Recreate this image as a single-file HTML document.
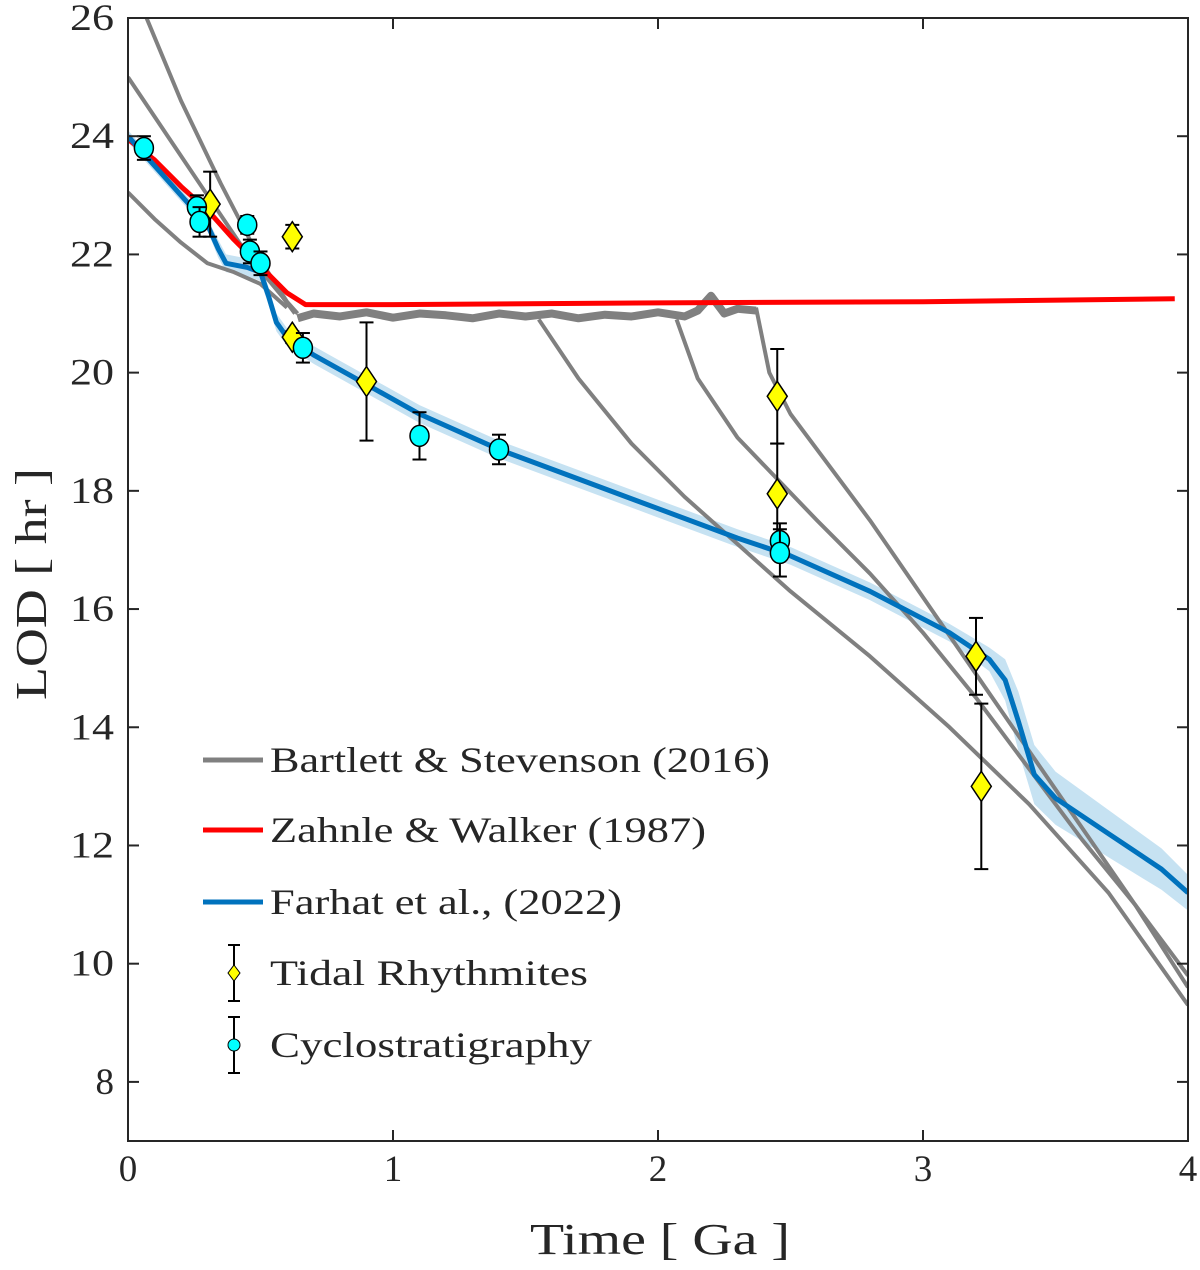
<!DOCTYPE html>
<html><head><meta charset="utf-8"><style>
body{margin:0;background:#fff}
svg text{font-family:"Liberation Serif","DejaVu Serif",serif;fill:#262626}
</style></head><body>
<svg id="chart" width="1200" height="1265" xmlns="http://www.w3.org/2000/svg"></svg>
<script>
const xTicks=[0,1,2,3,4];
const yTicks=[8,10,12,14,16,18,20,22,24,26];
const redX=[0,0.1,0.2,0.3,0.4,0.5,0.6,0.67,1,2,3,3.95];
const redY=[23.95,23.6,23.15,22.75,22.25,21.8,21.35,21.15,21.15,21.18,21.2,21.25];
const blueX=[0,0.1,0.2,0.3,0.34,0.37,0.45,0.5,0.53,0.56,0.6,0.7,0.9,1.1,1.4,1.7,2.0,2.3,2.5,2.8,3.1,3.25,3.31,3.36,3.42,3.5,3.7,3.9,4];
const blueY=[24,23.5,23.0,22.5,22.1,21.85,21.78,21.7,21.3,20.85,20.6,20.3,19.8,19.3,18.7,18.2,17.7,17.2,16.9,16.3,15.6,15.15,14.8,14.1,13.2,12.8,12.2,11.6,11.2];
const bandW=[0.1,0.1,0.1,0.1,0.15,0.15,0.15,0.15,0.15,0.15,0.15,0.15,0.15,0.15,0.15,0.15,0.15,0.15,0.15,0.15,0.15,0.2,0.35,0.5,0.5,0.45,0.4,0.35,0.3];
const grayLines=[
 {x:[0.07,0.2,0.35,0.5,0.6,0.64],y:[26,24.6,23.2,21.9,21.2,21.0]},
 {x:[0,0.15,0.3,0.45,0.58,0.63],y:[25,24.0,23.0,22.0,21.3,21.0]},
 {x:[0,0.1,0.2,0.3,0.4,0.5,0.6],y:[23.05,22.6,22.2,21.85,21.7,21.5,21.1]},
 {x:[0.64,0.7,0.8,0.9,1.0,1.1,1.2,1.3,1.4,1.5,1.6,1.7,1.8,1.9,2.0,2.1,2.15,2.2,2.25,2.3,2.37],y:[20.92,21.0,20.95,21.02,20.93,21.0,20.97,20.92,21.0,20.95,21.0,20.92,20.98,20.95,21.02,20.95,21.05,21.3,21.0,21.08,21.05]},
 {x:[1.55,1.7,1.9,2.1,2.3,2.5,2.8,3.1,3.4,3.7,4],y:[20.9,19.9,18.8,17.9,17.1,16.3,15.2,14.0,12.7,11.2,9.3]},
 {x:[2.07,2.15,2.3,2.45,2.6,2.8,3.0,3.2,3.4,3.6,3.8,4],y:[20.9,19.9,18.9,18.2,17.5,16.6,15.6,14.5,13.3,12.1,11.0,9.6]},
 {x:[2.37,2.42,2.5,2.6,2.8,3.0,3.2,3.4,3.6,3.8,4],y:[21.1,20.0,19.3,18.7,17.5,16.2,14.9,13.6,12.3,11.0,9.8]}
];
const tideX=[0.31,0.62,0.62,0.9,2.45,2.45,3.2,3.22];
const tideY=[22.85,22.3,20.6,19.85,19.6,17.95,15.2,13.0];
const tideE=[0.55,0.2,0.1,1.0,0.8,0.85,0.65,1.4];
const cycX=[0.06,0.26,0.27,0.45,0.46,0.5,0.66,1.1,1.4,2.46,2.46];
const cycY=[23.8,22.8,22.55,22.5,22.05,21.85,20.42,18.93,18.7,17.15,16.95];
const cycE=[0.2,0.2,0.25,0.15,0.2,0.2,0.25,0.4,0.25,0.3,0.4];

const NS='http://www.w3.org/2000/svg';
const svg=document.getElementById('chart');
const L=128,R=1188,T=18,B=1141;
const sx=v=>L+v*(R-L)/4;
const sy=v=>B-(v-7)*(B-T)/19;
function mk(tag,attrs,parent){const e=document.createElementNS(NS,tag);for(const k in attrs)e.setAttribute(k,attrs[k]);(parent||svg).appendChild(e);return e;}
const clip=mk('clipPath',{id:'pc'});mk('rect',{x:L,y:T,width:R-L,height:B-T},clip);
const g=mk('g',{'clip-path':'url(#pc)'});


const pts=(xs,ys)=>xs.map((x,i)=>sx(x)+','+sy(ys[i])).join(' ');
let up=blueX.map((x,i)=>sx(x)+','+sy(blueY[i]+bandW[i]));
let dn=blueX.map((x,i)=>sx(x)+','+sy(blueY[i]-bandW[i])).reverse();
const band=mk('polygon',{points:up.concat(dn).join(' '),fill:'#c6e2f2'},g);


grayLines.forEach((l,i)=>{const p=mk('polyline',{points:pts(l.x,l.y),fill:'none',stroke:'#808080','stroke-width':i==3?8:4,'stroke-linejoin':'round'},g);

});
const red=mk('polyline',{points:pts(redX,redY),fill:'none',stroke:'#ff0000','stroke-width':5,'stroke-linejoin':'round'},g);


const blue=mk('polyline',{points:pts(blueX,blueY),fill:'none',stroke:'#0072bd','stroke-width':5,'stroke-linejoin':'round'},g);


function ebar(x,y,e,par){const X=sx(x);mk('line',{x1:X,x2:X,y1:sy(y+e),y2:sy(y-e),stroke:'#000','stroke-width':2},par);
[y+e,y-e].forEach(v=>mk('line',{x1:X-7,x2:X+7,y1:sy(v),y2:sy(v),stroke:'#000','stroke-width':2},par));}
tideX.forEach((x,i)=>{const gg=mk('g',{},g);
ebar(x,tideY[i],tideE[i],gg);const X=sx(x),Y=sy(tideY[i]);
mk('polygon',{points:`${X},${Y-15} ${X+10},${Y} ${X},${Y+15} ${X-10},${Y}`,fill:'#ffff00',stroke:'#000','stroke-width':1.5},gg);});
cycX.forEach((x,i)=>{const gg=mk('g',{},g);
ebar(x,cycY[i],cycE[i],gg);mk('ellipse',{cx:sx(x),cy:sy(cycY[i]),rx:9.5,ry:10.5,fill:'#00ffff',stroke:'#000','stroke-width':1.5},gg);});
const ax=mk('rect',{x:L,y:T,width:R-L,height:B-T,fill:'none',stroke:'#262626','stroke-width':2});

xTicks.forEach(v=>{const X=sx(v);mk('line',{x1:X,x2:X,y1:B,y2:B-11,stroke:'#262626','stroke-width':2});mk('line',{x1:X,x2:X,y1:T,y2:T+11,stroke:'#262626','stroke-width':2});
const t=mk('text',{x:X,y:B+40,'font-size':37,'text-anchor':'middle'});t.textContent=v;});
yTicks.forEach(v=>{const Y=sy(v);mk('line',{x1:L,x2:L+11,y1:Y,y2:Y,stroke:'#262626','stroke-width':2});mk('line',{x1:R,x2:R-11,y1:Y,y2:Y,stroke:'#262626','stroke-width':2});
const t=mk('text',{x:L-14,y:Y+12,'font-size':37,'text-anchor':'end',textLength:44,lengthAdjust:'spacingAndGlyphs'});t.textContent=v;if(v<10){t.removeAttribute('textLength');}});
const xt=mk('text',{x:530,y:1254,'font-size':44,textLength:260,lengthAdjust:'spacingAndGlyphs'});xt.textContent='Time [ Ga ]';
const yt=mk('text',{x:0,y:0,'font-size':44,textLength:232,lengthAdjust:'spacingAndGlyphs',transform:'translate(46,700) rotate(-90)'});yt.textContent='LOD [ hr ]';
const leg=[['Bartlett & Stevenson (2016)','#808080',760,500],['Zahnle & Walker (1987)','#ff0000',830,436],['Farhat et al., (2022)','#0072bd',902,352]];
leg.forEach(l=>{const gg=mk('g',{});
mk('line',{x1:203,x2:263,y1:l[2],y2:l[2],stroke:l[1],'stroke-width':5},gg);
const t=mk('text',{x:270,y:l[2]+12,'font-size':36,textLength:l[3],lengthAdjust:'spacingAndGlyphs'},gg);t.textContent=l[0];});
[[973,'Tidal Rhythmites','d',318],[1045,'Cyclostratigraphy','c',322]].forEach(l=>{const gg=mk('g',{});
const Y=l[0];mk('line',{x1:234,x2:234,y1:Y-28,y2:Y+28,stroke:'#000','stroke-width':2},gg);
[Y-28,Y+28].forEach(v=>mk('line',{x1:228,x2:240,y1:v,y2:v,stroke:'#000','stroke-width':2},gg));
if(l[2]=='d')mk('polygon',{points:`234,${Y-8} 240,${Y} 234,${Y+8} 228,${Y}`,fill:'#ffff00',stroke:'#000'},gg);
else mk('circle',{cx:234,cy:Y,r:6,fill:'#00ffff',stroke:'#000'},gg);
const t=mk('text',{x:270,y:Y+12,'font-size':36,textLength:l[3],lengthAdjust:'spacingAndGlyphs'},gg);t.textContent=l[1];});
</script>
</body></html>
